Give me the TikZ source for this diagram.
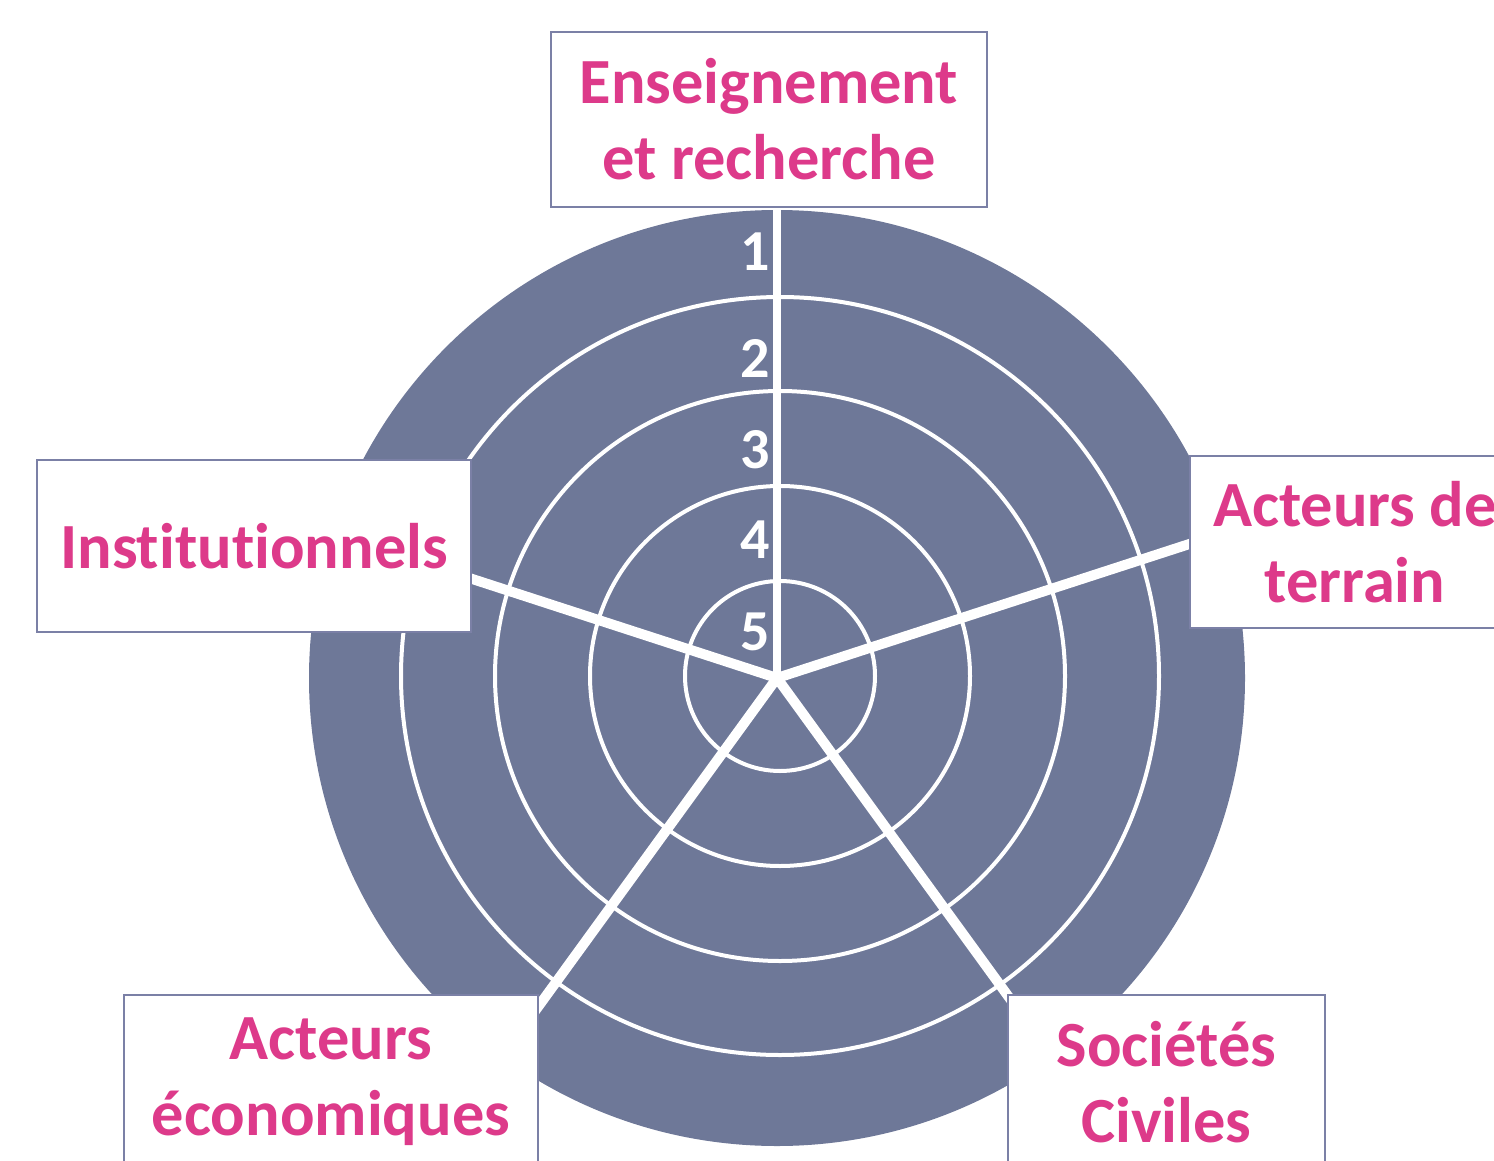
\documentclass[tikz,border=0pt]{standalone}
\usepackage{fontspec}
\setmainfont{Carlito}[Ligatures=NoCommon]
\definecolor{discblue}{HTML}{6E7898}
\definecolor{pinktxt}{HTML}{DD3A8A}
\definecolor{boxline}{HTML}{7B80A6}
\tikzset{
  lblbox/.style={draw=boxline,line width=1pt,fill=white,text=pinktxt,align=center,inner sep=0pt,
    font=\fontsize{32.2}{38}\selectfont\bfseries},
  ring/.style={draw=white,line width=2pt},
  spoke/.style={draw=white,line width=5pt},
  num/.style={text=white,font=\fontsize{29}{34}\selectfont\bfseries,inner sep=0pt}
}
\begin{document}
\begin{tikzpicture}[x=0.5pt,y=-0.5pt]
\useasboundingbox (0,0) rectangle (1494,1161);
\coordinate (c) at (777,678);
\coordinate (rc) at (780,676);
\fill[discblue] (c) circle[radius=234pt];
\foreach \r in {47.5,95,142.5,189.5}{\draw[ring] (rc) circle[radius=\r pt];}
\coordinate (e1) at ([shift={(90:234pt)}]c);
\coordinate (e2) at ([shift={(18:234pt)}]c);
\coordinate (e3) at ([shift={(-54:234pt)}]c);
\coordinate (e4) at ([shift={(-126:234pt)}]c);
\coordinate (e5) at ([shift={(162:234pt)}]c);
\draw[spoke,line width=4pt] (c) -- (e1);
\draw[spoke] (c) -- (e2);
\draw[spoke] (c) -- (e3);
\draw[spoke] (c) -- (e4);
\draw[spoke] (c) -- (e5);
\node[num] (n1) at (755,252) {1};
\node[num] (n2) at (755,358) {2};
\node[num] (n3) at (755,450) {3};
\node[num] (n4) at (755,540) {4};
\node[num] (n5) at (755,632) {5};
\node[lblbox,minimum width=218pt,minimum height=87.5pt] (top) at (769,119.5) {Enseignement\\et recherche};
\node[lblbox,minimum width=217pt,minimum height=86pt] (left) at (254,546) {Institutionnels};
\node[lblbox,minimum width=165pt,minimum height=86pt] (right) at (1355,542) {Acteurs de\\terrain};
\node[lblbox,minimum width=207pt,minimum height=87.5pt] (bl) at (331,1082) {Acteurs\\économiques};
\node[lblbox,minimum width=158.5pt,minimum height=87.5pt] (br) at (1166.5,1082) {Sociétés\\Civiles};
\end{tikzpicture}
\end{document}
